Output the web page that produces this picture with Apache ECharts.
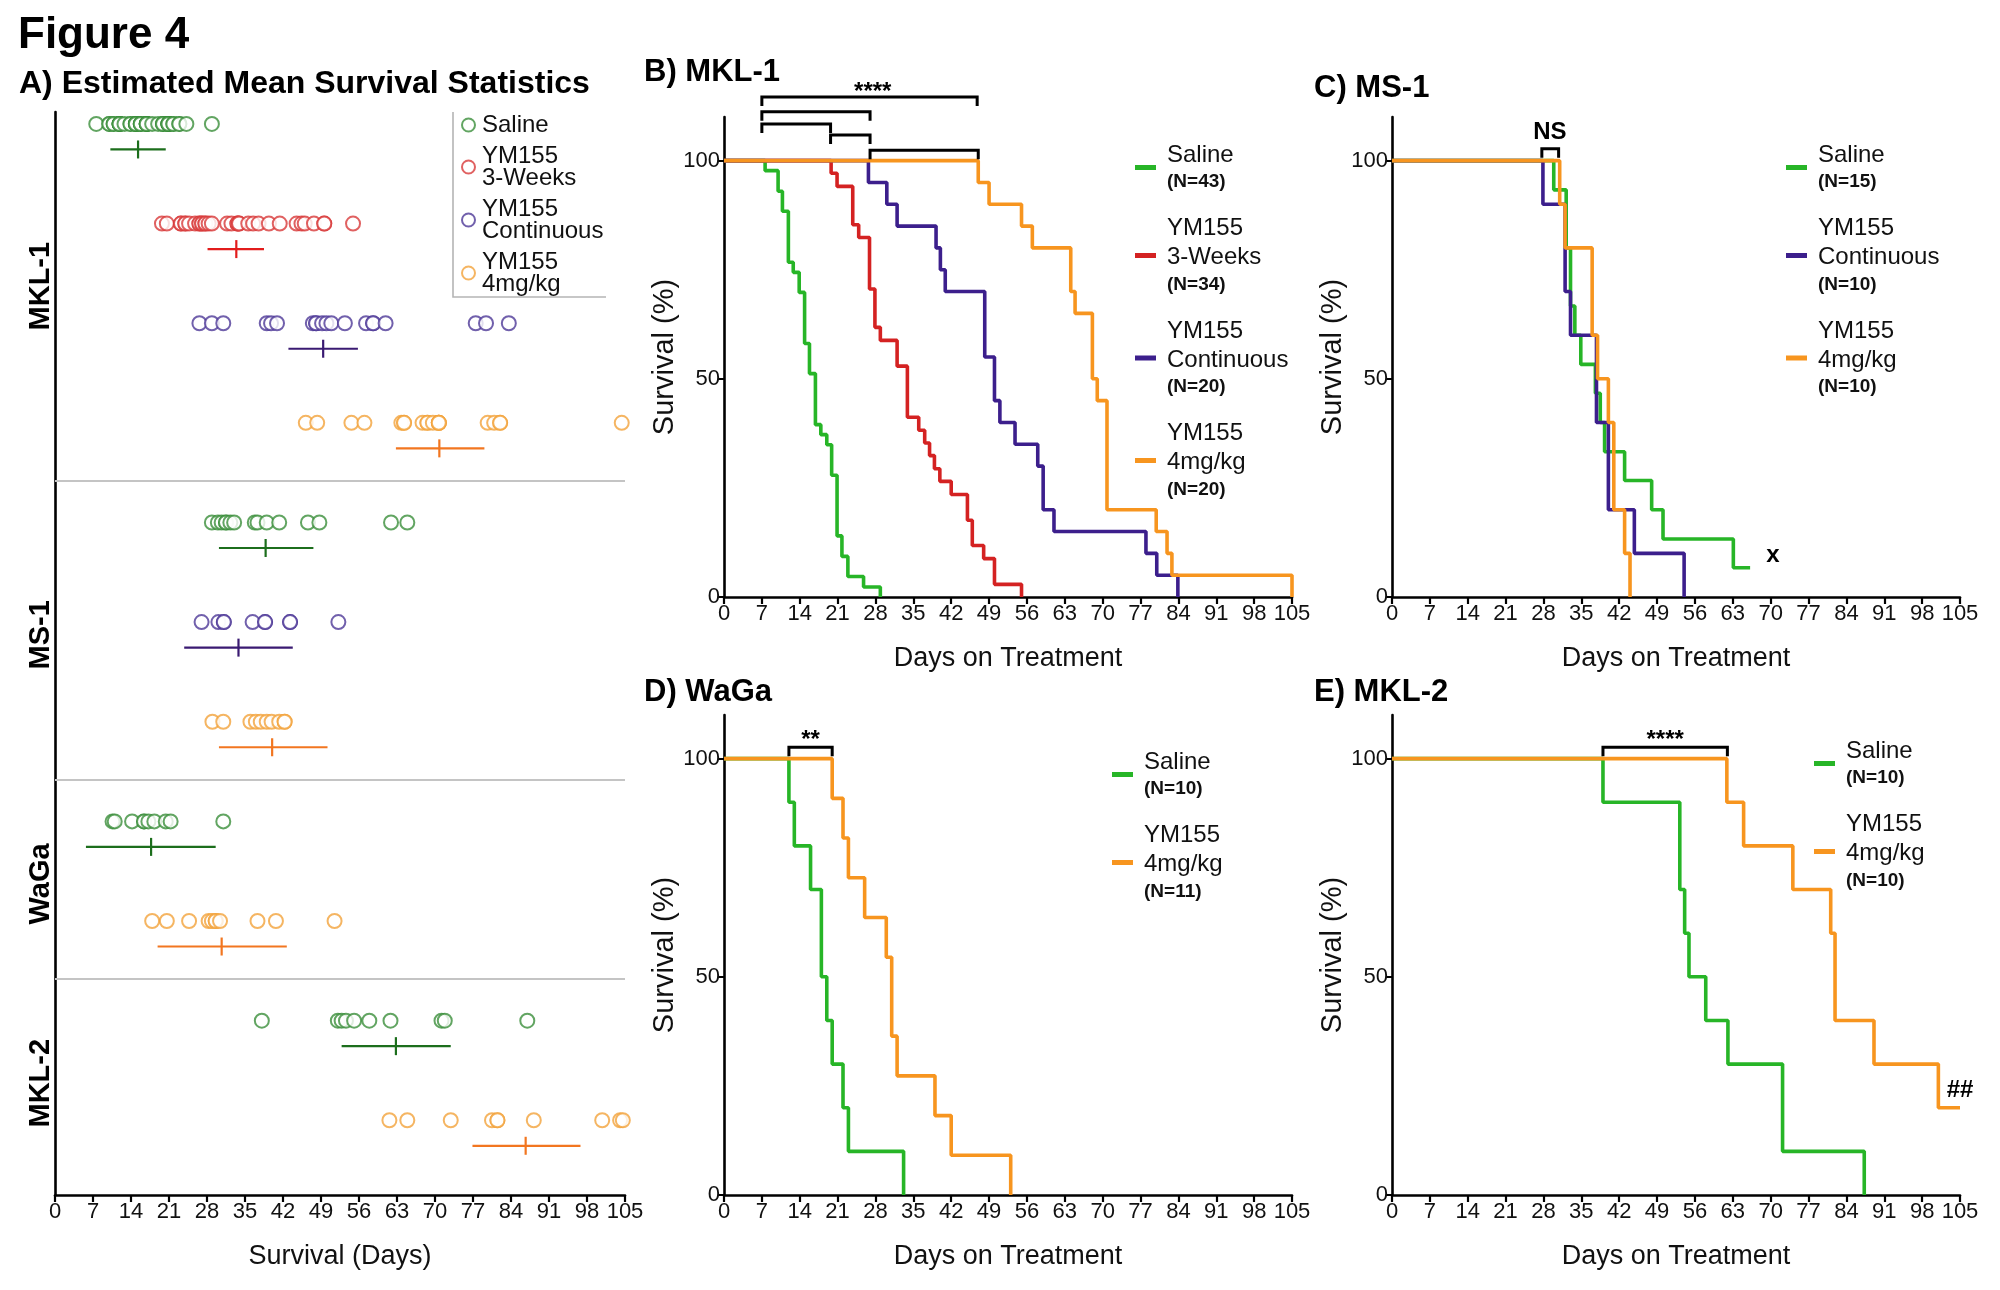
<!DOCTYPE html>
<html>
<head>
<meta charset="utf-8">
<title>Figure 4</title>
<script src="https://cdn.jsdelivr.net/npm/echarts@6/dist/echarts.min.js"></script>
<style>
  html, body { margin: 0; padding: 0; background: #fff; }
  #main { width: 2000px; height: 1290px; }
</style>
</head>
<body>
<div id="main"></div>
<script>
var FONT = 'Liberation Sans, Arial, sans-serif';

// ---- ticks ----
var survTicks = [0, 50, 100];

// ---- A) estimated mean survival (one row per cell line / treatment) ----
var cellLines = ['MKL-1', 'MS-1', 'WaGa', 'MKL-2'];
var aGroupNames = ['Saline', 'YM155\n3-Weeks', 'YM155\nContinuous', 'YM155\n4mg/kg'];
var aRowLine  = [0, 0, 0, 0, 1, 1, 1, 2, 2, 3, 3];
var aRowGroup = [0, 1, 2, 3, 0, 2, 3, 0, 3, 0, 3];
var aDots = [
  [7.6, 10, 10, 10.8, 10.8, 11.9, 11.9, 11.9, 11.9, 11.9, 12.8, 13.9, 13.9, 14.9, 14.9, 14.9, 14.9, 14.9,
   15.8, 15.8, 15.8, 16.9, 16.9, 16.9, 16.9, 16.9, 17.9, 19, 19.9, 19.9, 19.9, 20.9, 20.9, 20.9, 20.9, 20.9, 20.9,
   21.8, 21.8, 22.9, 22.9, 24.2, 28.9],
  [19.7, 20.6, 23.2, 23.2, 24, 24, 24.7, 25.8, 26.6, 26.6, 27.1, 27.1, 27.7, 27.7, 28.3, 28.9, 31.7, 32.5, 33.6, 33.6,
   33.9, 33.9, 35.6, 36.5, 37.5, 39.4, 41.4, 44.5, 45.4, 46, 47.7, 49.6, 49.6, 54.9],
  [26.6, 28.9, 31, 39, 39.8, 40.9, 47.5, 48.1, 48.1, 49.2, 50, 50.9, 53.4, 57.3, 58.6, 58.6, 60.9, 77.5, 79.4, 83.6],
  [46.2, 48.3, 54.6, 57, 63.8, 64.3, 64.3, 67.7, 68.6, 68.6, 69.6, 70.7, 70.7, 70.7, 70.7, 79.7, 80.9, 82, 82, 104.4],
  [28.9, 30, 30.7, 31.5, 31.5, 32.3, 33, 36.8, 37.3, 39, 41.3, 46.6, 48.7, 61.9, 64.9],
  [27, 30.1, 31.1, 31.1, 36.4, 38.7, 38.7, 43.3, 43.3, 52.2],
  [29, 31, 36, 37, 37.9, 39, 39.9, 41.3, 42.3, 42.3],
  [10.6, 11, 14.2, 16.4, 16.4, 17.2, 18.3, 20.4, 21.3, 31],
  [17.9, 20.6, 24.7, 28.3, 28.9, 29.6, 29.6, 30.4, 37.3, 40.7, 51.5],
  [38.1, 52.1, 52.8, 53.6, 55.1, 57.9, 61.8, 71.2, 71.8, 87],
  [61.6, 64.9, 72.9, 80.5, 81.5, 81.5, 88.2, 100.8, 104.1, 104.6]
];
var aMean = [15.3, 33.4, 49.4, 70.8, 38.8, 33.8, 40.0, 17.7, 30.7, 62.8, 86.7];
var aLow  = [10.2, 28.1, 43.0, 62.8, 30.2, 23.8, 30.2, 5.7, 18.9, 52.8, 76.9];
var aHigh = [20.4, 38.5, 55.8, 79.1, 47.6, 43.8, 50.2, 29.6, 42.7, 72.9, 96.8];

// ---- B) MKL-1 Kaplan-Meier steps ----
var bSalineDay  = [0, 7.6, 10, 10.8, 11.9, 12.8, 13.9, 14.9, 15.8, 16.9, 17.9, 19, 19.9, 20.9, 21.8, 22.9, 25.8, 28.9];
var bSalineSurv = [100, 97.7, 93.0, 88.4, 76.7, 74.4, 69.8, 58.1, 51.2, 39.5, 37.2, 34.9, 27.9, 14.0, 9.3, 4.7, 2.3, 0];
var bWeeksDay  = [0, 19.8, 20.9, 23.8, 24.9, 26.9, 27.9, 28.9, 32, 33.9, 36, 37.1, 38, 38.9, 39.9, 42, 45, 45.9, 48, 50, 55];
var bWeeksSurv = [100, 97.1, 94.1, 85.3, 82.4, 70.6, 61.8, 58.8, 52.9, 41.2, 38.2, 35.3, 32.4, 29.4, 26.5, 23.5, 17.6, 11.8, 8.8, 2.9, 0];
var bContDay  = [0, 26.7, 30.1, 32, 39.2, 40, 40.9, 48.2, 50, 51, 53.8, 58, 59, 61, 78, 80, 83.9];
var bContSurv = [100, 95, 90, 85, 80, 75, 70, 55, 45, 40, 35, 30, 20, 15, 10, 5, 0];
var bDoseDay  = [0, 47, 49, 55, 57, 64.1, 64.9, 68.1, 69, 70.8, 79.9, 81.9, 82.8, 105];
var bDoseSurv = [100, 95, 90, 85, 80, 70, 65, 50, 45, 20, 15, 10, 5, 0];
var bBrackets = [[7, 46.8, 114.6], [7, 27, 111.2], [7, 19.7, 108.4], [19.7, 27, 105.9], [27, 47, 102.4]];
var bNotes = [[27.5, 115.6, '****']];

// ---- C) MS-1 ----
var cSalineDay  = [0, 29.9, 32.2, 33, 33.8, 34.9, 37.6, 38.5, 39.3, 43, 48, 50.1, 63.1, 66.2];
var cSalineSurv = [100, 93.3, 80, 66.7, 60, 53.3, 46.7, 40, 33.3, 26.7, 20, 13.3, 6.7, 6.7];
var cContDay  = [0, 27.9, 32, 33, 37.8, 40, 44.8, 54];
var cContSurv = [100, 90, 70, 60, 40, 20, 10, 0];
var cDoseDay  = [0, 31, 32, 37, 38, 40, 41, 43, 44];
var cDoseSurv = [100, 90, 80, 60, 50, 40, 20, 10, 0];
var cBrackets = [[27.7, 30.8, 102.7]];
var cNotes = [[29.2, 106.5, 'NS'], [70.4, 9.6, 'x']];

// ---- D) WaGa ----
var dSalineDay  = [0, 12, 13, 16, 18, 19, 20, 22, 23, 33.2];
var dSalineSurv = [100, 90, 80, 70, 50, 40, 30, 20, 10, 0];
var dDoseDay  = [0, 20, 22, 23, 26, 30, 31, 32, 39, 42, 53];
var dDoseSurv = [100, 90.9, 81.8, 72.7, 63.6, 54.5, 36.4, 27.3, 18.2, 9.1, 0];
var dBrackets = [[12, 20, 102.6]];
var dNotes = [[16, 104.2, '**']];

// ---- E) MKL-2 ----
var eSalineDay  = [0, 39, 53.2, 54.1, 54.9, 58, 62.1, 72.2, 87.3];
var eSalineSurv = [100, 90, 70, 60, 50, 40, 30, 10, 0];
var eDoseDay  = [0, 61.9, 65, 74.1, 81.1, 81.9, 89.1, 101, 105];
var eDoseSurv = [100, 90, 80, 70, 60, 40, 30, 20, 20];
var eBrackets = [[39, 62, 102.6]];
var eNotes = [[50.5, 104.2, '****'], [105, 24, '##']];

// ---- colours ----
var kmColor  = { sal: '#27b527', wk: '#d42222', cont: '#3c1f8c', dose: '#f7951f' };
var dotColor = ['#3b8f3b', '#d83a3a', '#4d3897', '#f2a33b'];
var barColor = ['#1c6e1c', '#e21c1c', '#3a1a72', '#f27620'];

var BAR_OFF = 0.256;

var chart = echarts.init(document.getElementById('main'));
var series = [];
var legendText = {};

// panel A dots, one scatter per treatment
var aSeriesNames = [];
aGroupNames.forEach(function (g, gi) {
  var name = 'A:' + gi;
  aSeriesNames.push(name);
  legendText[name] = g;
  var pts = [];
  aRowGroup.forEach(function (grp, r) {
    if (grp !== gi) return;
    aDots[r].forEach(function (v) { pts.push([v, r]); });
  });
  series.push({
    name: name, type: 'scatter', xAxisIndex: 0, yAxisIndex: 0,
    symbol: 'emptyCircle', symbolSize: 14,
    itemStyle: { color: dotColor[gi], borderWidth: 1.3 },
    data: pts, silent: true, z: 3
  });
});

// separators between cell lines
var sepLines = [];
for (var r = 1; r < aRowLine.length; r++) {
  if (aRowLine[r] !== aRowLine[r - 1]) sepLines.push({ yAxis: (r - 1 + r) / 2 + 0.08 });
}
series[0].markLine = {
  silent: true, symbol: 'none', label: { show: false },
  lineStyle: { color: '#c4c4c4', width: 2, type: 'solid' },
  data: sepLines
};

// mean + CI bars
series.push({
  type: 'custom', xAxisIndex: 0, yAxisIndex: 0, silent: true, z: 4,
  data: aMean.map(function (m, i) { return [m, aLow[i], aHigh[i], i]; }),
  renderItem: function (params, api) {
    var row = api.value(3) + BAR_OFF;
    var pL = api.coord([api.value(1), row]);
    var pR = api.coord([api.value(2), row]);
    var pM = api.coord([api.value(0), row]);
    var c = barColor[aRowGroup[params.dataIndex]];
    return {
      type: 'group', children: [
        { type: 'line', shape: { x1: pL[0], y1: pL[1], x2: pR[0], y2: pR[1] }, style: { stroke: c, lineWidth: 2.2 } },
        { type: 'line', shape: { x1: pM[0], y1: pM[1] - 9, x2: pM[0], y2: pM[1] + 9 }, style: { stroke: c, lineWidth: 2.2 } }
      ]
    };
  }
});

// label positions on panel A's y axis: centre of each cell line block
var aLabelPos = cellLines.map(function (c, ci) {
  var first = aRowLine.indexOf(ci), last = aRowLine.lastIndexOf(ci);
  return (first + last + BAR_OFF) / 2;
});

function km(idx, prefix, label, n, days, surv, color) {
  var name = prefix + ':' + label;
  var parts = label.split('\n').map(function (s) { return '{t|' + s + '}'; });
  parts.push('{n|(N=' + n + ')}');
  legendText[name] = parts.join('\n');
  series.push({
    name: name, type: 'line', xAxisIndex: idx, yAxisIndex: idx, step: 'end',
    symbol: 'none', silent: true,
    lineStyle: { color: color, width: 3.6 }, itemStyle: { color: color },
    data: days.map(function (d, i) { return [d, surv[i]]; })
  });
  return name;
}

function brackets(idx, list) {
  series.push({
    type: 'custom', xAxisIndex: idx, yAxisIndex: idx, clip: false, silent: true, z: 10,
    data: list.map(function (b) { return [b[0], b[2], b[1]]; }),
    renderItem: function (params, api) {
      var a = api.coord([api.value(0), api.value(1)]);
      var b = api.coord([api.value(2), api.value(1)]);
      return {
        type: 'polyline',
        shape: { points: [[a[0], a[1] + 9], [a[0], a[1]], [b[0], b[1]], [b[0], b[1] + 9]] },
        style: { stroke: '#000', lineWidth: 3, fill: null }
      };
    }
  });
}

function notes(idx, list) {
  series.push({
    type: 'custom', xAxisIndex: idx, yAxisIndex: idx, clip: false, silent: true, z: 11,
    data: list.map(function (n) { return [n[0], n[1]]; }),
    renderItem: function (params, api) {
      var p = api.coord([api.value(0), api.value(1)]);
      return {
        type: 'text', x: p[0], y: p[1],
        style: { text: list[params.dataIndex][2], fill: '#000', font: 'bold 24px ' + FONT, align: 'center', verticalAlign: 'middle' }
      };
    }
  });
}

var bNames = [
  km(1, 'B', 'Saline', 43, bSalineDay, bSalineSurv, kmColor.sal),
  km(1, 'B', 'YM155\n3-Weeks', 34, bWeeksDay, bWeeksSurv, kmColor.wk),
  km(1, 'B', 'YM155\nContinuous', 20, bContDay, bContSurv, kmColor.cont),
  km(1, 'B', 'YM155\n4mg/kg', 20, bDoseDay, bDoseSurv, kmColor.dose)
];
var cNames = [
  km(2, 'C', 'Saline', 15, cSalineDay, cSalineSurv, kmColor.sal),
  km(2, 'C', 'YM155\nContinuous', 10, cContDay, cContSurv, kmColor.cont),
  km(2, 'C', 'YM155\n4mg/kg', 10, cDoseDay, cDoseSurv, kmColor.dose)
];
var dNames = [
  km(3, 'D', 'Saline', 10, dSalineDay, dSalineSurv, kmColor.sal),
  km(3, 'D', 'YM155\n4mg/kg', 11, dDoseDay, dDoseSurv, kmColor.dose)
];
var eNames = [
  km(4, 'E', 'Saline', 10, eSalineDay, eSalineSurv, kmColor.sal),
  km(4, 'E', 'YM155\n4mg/kg', 10, eDoseDay, eDoseSurv, kmColor.dose)
];
brackets(1, bBrackets); notes(1, bNotes);
brackets(2, cBrackets); notes(2, cNotes);
brackets(3, dBrackets); notes(3, dNotes);
brackets(4, eBrackets); notes(4, eNotes);

var axisLineStyle = { show: true, onZero: false, lineStyle: { color: '#000', width: 2.6 } };
var tickStyle = { show: true, length: 7, lineStyle: { color: '#000', width: 2.2 } };

function dayAxis(gi, name) {
  return {
    type: 'value', gridIndex: gi, min: 0, max: 105, interval: 7,
    name: name, nameLocation: 'middle', nameGap: 48,
    nameTextStyle: { fontSize: 27, color: '#111', fontFamily: FONT },
    axisLine: axisLineStyle, axisTick: tickStyle, splitLine: { show: false },
    axisLabel: { color: '#111', fontSize: 22, margin: 6, fontFamily: FONT }
  };
}
function survAxis(gi) {
  return {
    type: 'value', gridIndex: gi, min: 0, max: 110,
    name: 'Survival (%)', nameLocation: 'middle', nameGap: 44,
    nameTextStyle: { fontSize: 29, color: '#111', fontFamily: FONT },
    axisLine: axisLineStyle, splitLine: { show: false },
    axisTick: { show: true, length: 6, customValues: survTicks, lineStyle: { color: '#000', width: 2 } },
    axisLabel: { customValues: survTicks, color: '#111', fontSize: 22, margin: 4, fontFamily: FONT }
  };
}

function kmLegend(names, left, top) {
  return {
    data: names, left: left, top: top, orient: 'vertical', padding: 0,
    itemGap: 25, itemWidth: 21, itemHeight: 5, icon: 'rect', selectedMode: false,
    formatter: function (n) { return legendText[n]; },
    textStyle: {
      padding: [0, 0, 0, 6],
      rich: {
        t: { fontSize: 24, lineHeight: 29, color: '#111', fontFamily: FONT },
        n: { fontSize: 19, fontWeight: 'bold', lineHeight: 25, color: '#111', fontFamily: FONT }
      }
    }
  };
}

var option = {
  animation: false,
  backgroundColor: '#fff',
  textStyle: { fontFamily: FONT },
  title: [
    { text: 'Figure 4', left: 18, top: 14, padding: 0, textStyle: { fontSize: 44, fontWeight: 'bold', color: '#000', fontFamily: FONT } },
    { text: 'A) Estimated Mean Survival Statistics', left: 19, top: 68, padding: 0, textStyle: { fontSize: 32, fontWeight: 'bold', color: '#000', fontFamily: FONT } },
    { text: 'B) MKL-1', left: 644, top: 57, padding: 0, textStyle: { fontSize: 31, fontWeight: 'bold', color: '#000', fontFamily: FONT } },
    { text: 'C) MS-1', left: 1314, top: 73, padding: 0, textStyle: { fontSize: 31, fontWeight: 'bold', color: '#000', fontFamily: FONT } },
    { text: 'D) WaGa', left: 644, top: 677, padding: 0, textStyle: { fontSize: 31, fontWeight: 'bold', color: '#000', fontFamily: FONT } },
    { text: 'E) MKL-2', left: 1314, top: 677, padding: 0, textStyle: { fontSize: 31, fontWeight: 'bold', color: '#000', fontFamily: FONT } }
  ],
  grid: [
    { left: 55, top: 112, width: 570, height: 1083, outerBoundsMode: 'none' },
    { left: 724, top: 117, width: 568, height: 480, outerBoundsMode: 'none' },
    { left: 1392, top: 117, width: 568, height: 480, outerBoundsMode: 'none' },
    { left: 724, top: 715, width: 568, height: 480, outerBoundsMode: 'none' },
    { left: 1392, top: 715, width: 568, height: 480, outerBoundsMode: 'none' }
  ],
  xAxis: [
    dayAxis(0, 'Survival (Days)'),
    dayAxis(1, 'Days on Treatment'),
    dayAxis(2, 'Days on Treatment'),
    dayAxis(3, 'Days on Treatment'),
    dayAxis(4, 'Days on Treatment')
  ],
  yAxis: [
    {
      type: 'value', gridIndex: 0, inverse: true, min: -0.12, max: 10.75,
      axisLine: axisLineStyle, axisTick: { show: false }, splitLine: { show: false },
      axisLabel: {
        customValues: aLabelPos, rotate: 90, margin: 0,
        fontSize: 29, fontWeight: 'bold', color: '#000', fontFamily: FONT,
        formatter: function (v) {
          var best = 0;
          aLabelPos.forEach(function (p, i) { if (Math.abs(p - v) < Math.abs(aLabelPos[best] - v)) best = i; });
          return cellLines[best];
        }
      }
    },
    survAxis(1), survAxis(2), survAxis(3), survAxis(4)
  ],
  legend: [
    {
      data: aSeriesNames, left: 461, top: 113, orient: 'vertical', padding: 0,
      itemGap: 7, itemWidth: 13, itemHeight: 13, selectedMode: false,
      formatter: function (n) { return legendText[n]; },
      textStyle: { fontSize: 24, lineHeight: 22, color: '#111', fontFamily: FONT, padding: [0, 0, 0, 2] }
    },
    kmLegend(bNames, 1135, 143),
    kmLegend(cNames, 1786, 143),
    kmLegend(dNames, 1112, 750),
    kmLegend(eNames, 1814, 739)
  ],
  graphic: [
    { type: 'polyline', silent: true, shape: { points: [[453, 112], [453, 297], [606, 297]] }, style: { stroke: '#b5b5b5', lineWidth: 1.6, fill: null } }
  ],
  series: series
};

chart.setOption(option);
</script>
</body>
</html>
